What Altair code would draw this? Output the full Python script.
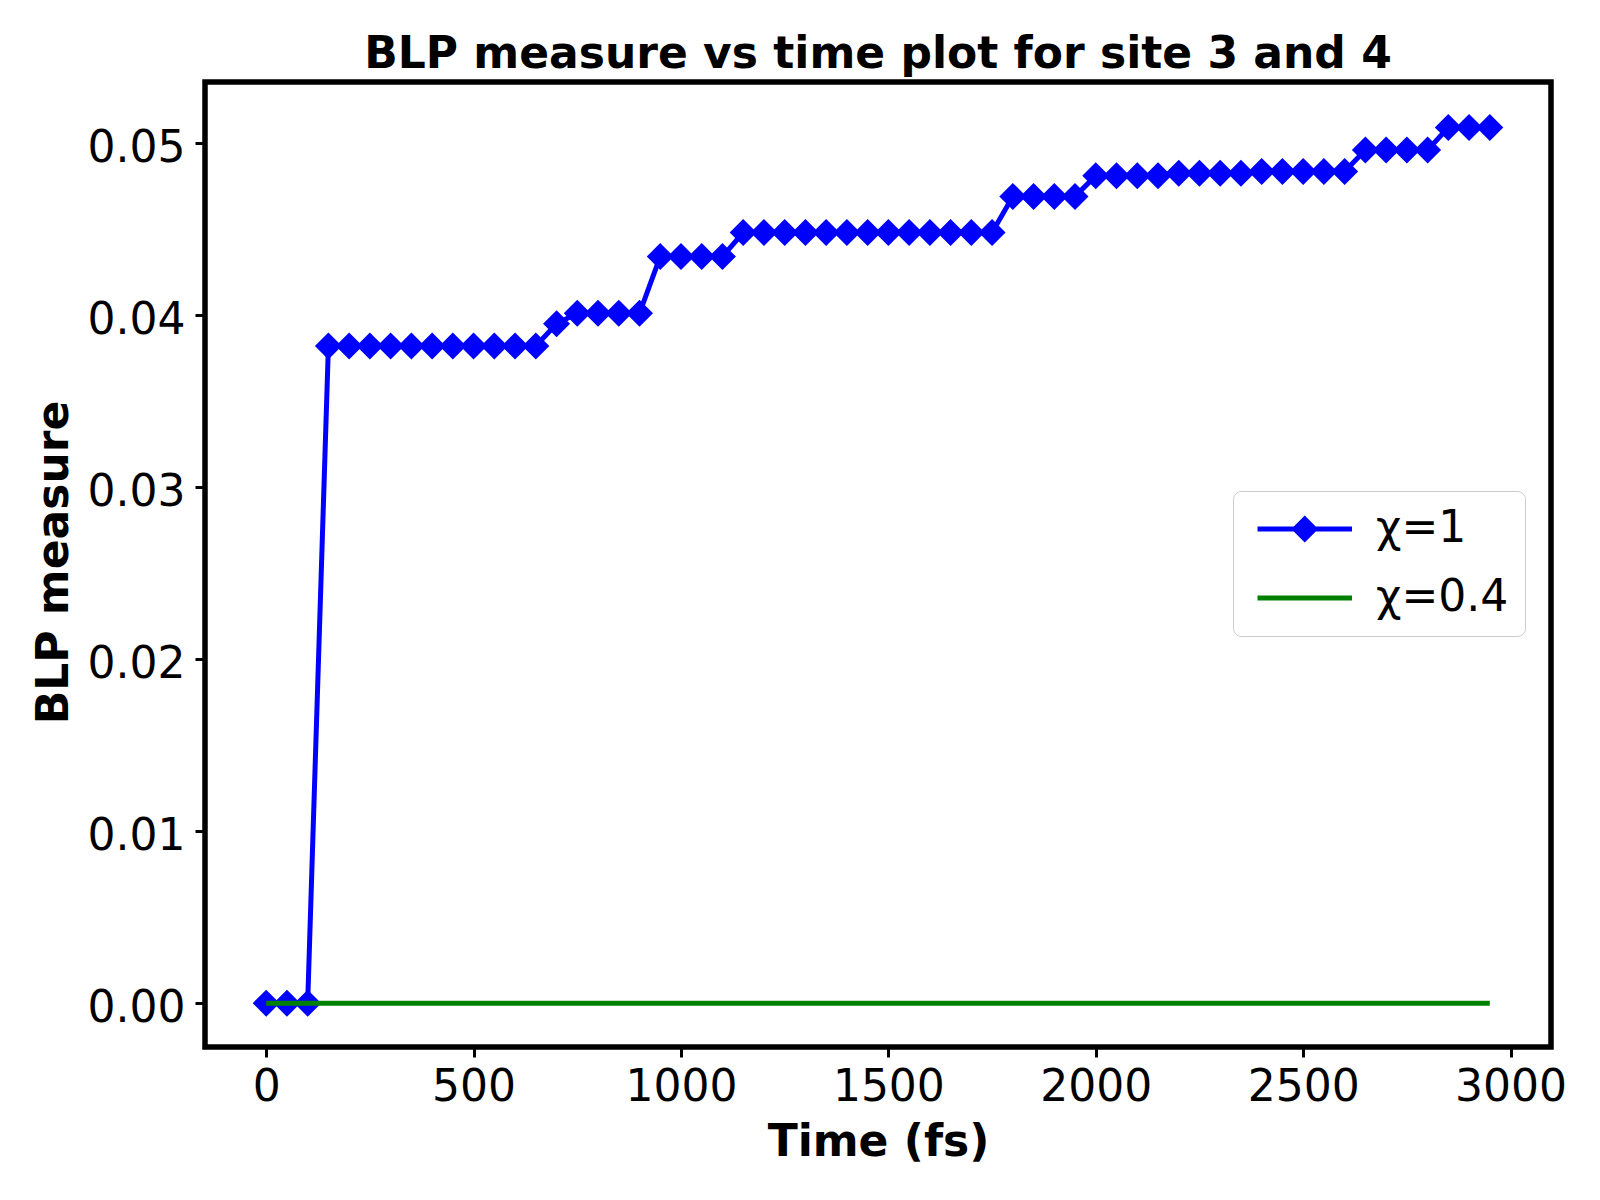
import altair as alt
import pandas as pd

# ---- data ----
time_fs = [0, 50, 100, 150, 200, 250, 300, 350, 400, 450,
           500, 550, 600, 650, 700, 750, 800, 850, 900, 950,
           1000, 1050, 1100, 1150, 1200, 1250, 1300, 1350, 1400, 1450,
           1500, 1550, 1600, 1650, 1700, 1750, 1800, 1850, 1900, 1950,
           2000, 2050, 2100, 2150, 2200, 2250, 2300, 2350, 2400, 2450,
           2500, 2550, 2600, 2650, 2700, 2750, 2800, 2850, 2900, 2950]

blp_chi1 = [0.0, 0.0, 0.0, 0.0382, 0.0382, 0.0382, 0.0382, 0.0382, 0.0382, 0.0382,
            0.0382, 0.0382, 0.0382, 0.0382, 0.0395, 0.0401, 0.0401, 0.0401, 0.0401, 0.0434,
            0.0434, 0.0434, 0.0434, 0.0448, 0.0448, 0.0448, 0.0448, 0.0448, 0.0448, 0.0448,
            0.0448, 0.0448, 0.0448, 0.0448, 0.0448, 0.0448, 0.0469, 0.0469, 0.0469, 0.0469,
            0.0481, 0.0481, 0.0481, 0.0481, 0.04825, 0.04825, 0.04825, 0.04825, 0.04835, 0.04835,
            0.04835, 0.04835, 0.04835, 0.0496, 0.0496, 0.0496, 0.0496, 0.0509, 0.0509, 0.0509]

blp_chi04 = [0.0, 0.0, 0.0, 0.0, 0.0, 0.0, 0.0, 0.0, 0.0, 0.0,
             0.0, 0.0, 0.0, 0.0, 0.0, 0.0, 0.0, 0.0, 0.0, 0.0,
             0.0, 0.0, 0.0, 0.0, 0.0, 0.0, 0.0, 0.0, 0.0, 0.0,
             0.0, 0.0, 0.0, 0.0, 0.0, 0.0, 0.0, 0.0, 0.0, 0.0,
             0.0, 0.0, 0.0, 0.0, 0.0, 0.0, 0.0, 0.0, 0.0, 0.0,
             0.0, 0.0, 0.0, 0.0, 0.0, 0.0, 0.0, 0.0, 0.0, 0.0]

series_names = ["χ=1", "χ=0.4"]
series_colors = ["#0000ff", "#008000"]
x_ticks = [0, 500, 1000, 1500, 2000, 2500, 3000]
y_ticks = [0.0, 0.01, 0.02, 0.03, 0.04, 0.05]

df1 = pd.DataFrame({"time": time_fs, "blp": blp_chi1, "series": series_names[0]})
df2 = pd.DataFrame({"time": time_fs, "blp": blp_chi04, "series": series_names[1]})
# rows that only feed the legend (placed outside the clipped plot area)
df_leg = pd.DataFrame({"time": [0, 0], "blp": [-1.0, -1.0], "series": series_names})

FONT = "DejaVu Sans"
FS = 44
W, H = 1346, 965

x_scale = alt.Scale(domain=[-147.5, 3097.5], nice=False, zero=False)
y_scale = alt.Scale(domain=[-0.00255, 0.05355], nice=False, zero=False)

x_axis = alt.Axis(values=x_ticks, format="d", title="Time (fs)",
                  labelFontSize=FS, labelFont=FONT, labelColor="black",
                  labelPadding=43, labelBaseline="alphabetic", labelFlush=False,
                  labelOverlap=False, tickSize=10, tickWidth=3, tickColor="black",
                  domain=False, grid=False,
                  titleFontSize=FS, titleFont=FONT, titleFontWeight="bold", titleColor="black",
                  titleX=673, titleY=108, titleBaseline="alphabetic", titleAlign="center")
y_axis = alt.Axis(values=y_ticks, format=".2f", title="BLP measure",
                  labelFontSize=FS, labelFont=FONT, labelColor="black",
                  labelPadding=10, labelBaseline="alphabetic", labelOffset=18,
                  labelAlign="right", labelFlush=False, labelOverlap=False,
                  tickSize=10, tickWidth=3, tickColor="black",
                  domain=False, grid=False,
                  titleFontSize=FS, titleFont=FONT, titleFontWeight="bold", titleColor="black",
                  titleX=-138, titleY=480, titleAngle=270, titleBaseline="alphabetic",
                  titleAlign="center")

P1 = "M-1,-0.185L6,-0.185L6,0.185L-1,0.185Z M1.5,0L2.5,-1L3.5,0L2.5,1Z"
P2 = "M-1,-0.185L6,-0.185L6,0.185L-1,0.185Z"

legend = alt.Legend(
    title=None, orient="none", legendX=1028, legendY=409,
    labelFontSize=FS, labelFont=FONT, labelColor="black", labelOffset=83,
    symbolSize=729, symbolStrokeWidth=0, symbolOpacity=1, rowPadding=25, padding=16,
    fillColor="white", strokeColor="#cccccc", cornerRadius=8,
)

x_enc = alt.X("time:Q", scale=x_scale, axis=x_axis)
y_enc = alt.Y("blp:Q", scale=y_scale, axis=y_axis)

line1 = alt.Chart(df1).mark_line(strokeWidth=5, color=series_colors[0]).encode(x=x_enc, y=y_enc)
pts1 = alt.Chart(df1).mark_point(shape="diamond", filled=True, size=729, opacity=1,
                                 color=series_colors[0]).encode(x=x_enc, y=y_enc)
line2 = alt.Chart(df2).mark_line(strokeWidth=5, color=series_colors[1]).encode(x=x_enc, y=y_enc)
leg = alt.Chart(df_leg).mark_point(filled=True, size=729, opacity=1, clip=True).encode(
    x=x_enc, y=y_enc,
    color=alt.Color("series:N", scale=alt.Scale(domain=series_names, range=series_colors), legend=legend),
    shape=alt.Shape("series:N", scale=alt.Scale(domain=series_names, range=[P1, P2]), legend=legend),
)

chart = alt.layer(line1, pts1, line2, leg).properties(
    width=W, height=H,
    title=alt.TitleParams("BLP measure vs time plot for site 3 and 4", fontSize=FS, font=FONT,
                          fontWeight="bold", color="black", anchor="middle", frame="group",
                          offset=12, dy=42, baseline="alphabetic"),
    autosize=alt.AutoSizeParams(type="none"),
    padding={"left": 197, "top": 74, "right": 36, "bottom": 130},
).configure(
    font=FONT, background="white",
    view=alt.ViewConfig(stroke="black", strokeWidth=5.5, fill="white"),
)

chart.save("out.html", embed_options={"renderer": "svg", "actions": False})
